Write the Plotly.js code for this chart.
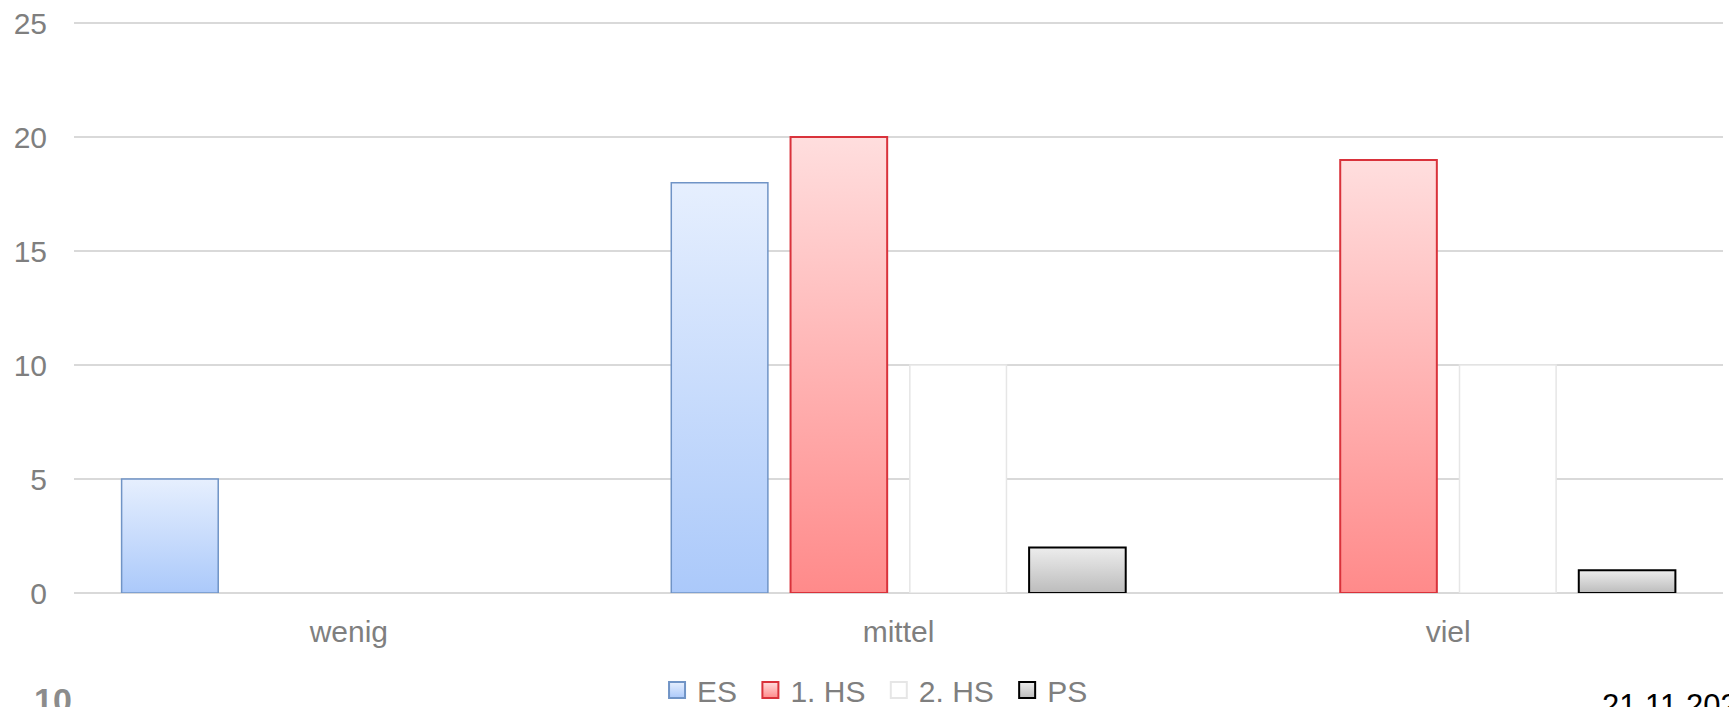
<!DOCTYPE html>
<html>
<head>
<meta charset="utf-8">
<script src="https://cdn.plot.ly/plotly-3.0.1.min.js"></script>
<style>
  html, body { margin: 0; padding: 0; background: #fff; }
  #chart { width: 1729px; height: 707px; }
</style>
</head>
<body>
<div id="chart"></div>
<script>
"use strict";

var categories = ['wenig', 'mittel', 'viel'];
var seriesNames = ['ES', '1. HS', '2. HS', 'PS'];
var valuesES = [5, 18, 0];
var valuesHS1 = [0, 20, 19];
var valuesHS2 = [0, 10, 10];
var valuesPS = [0, 2, 1];
var yTicks = [0, 5, 10, 15, 20, 25];

// gradient fills (top -> bottom), Plotly has no bar gradients so they get patched in after drawing
var fills = [
  {id: 'gES', top: '#e6effe', bottom: '#abc9fa', line: '#7094c6', width: 1.5},
  {id: 'gHS1', top: '#ffdede', bottom: '#ff8a8a', line: '#d9323b', width: 2},
  {id: 'gHS2', top: '#ffffff', bottom: '#ffffff', line: '#e6e6e6', width: 1.5},
  {id: 'gPS', top: '#ededed', bottom: '#bcbcbc', line: '#000000', width: 2}
];

var FONT = 'Arial, "Liberation Sans", sans-serif';
var GREY = '#7f7f7f';

var allValues = [valuesES, valuesHS1, valuesHS2, valuesPS];
var data = allValues.map(function(vals, i) {
  return {
    type: 'bar',
    // trailing nbsp widens the legend entries a little, like the original spacing
    name: seriesNames[i] + '\u00a0',
    x: categories,
    y: vals,
    marker: {
      color: fills[i].bottom,
      // no outline on empty bars, otherwise they show up as a stroke on the baseline
      line: {
        color: fills[i].line,
        width: vals.map(function(v) { return v > 0 ? fills[i].width : 0; })
      }
    }
  };
});

var layout = {
  width: 1729,
  height: 707,
  margin: {l: 74, r: 6, t: 22, b: 114, autoexpand: false},
  paper_bgcolor: '#ffffff',
  plot_bgcolor: '#ffffff',
  font: {family: FONT, size: 30, color: GREY},
  barmode: 'group',
  bargap: 0.132,
  bargroupgap: 0.19,
  showlegend: true,
  legend: {
    orientation: 'h',
    x: 0.4882,
    xanchor: 'center',
    y: -0.17,
    yanchor: 'middle',
    font: {family: FONT, size: 30, color: GREY},
    itemclick: false
  },
  xaxis: {
    type: 'category',
    automargin: false,
    showgrid: false,
    showline: false,
    zeroline: false,
    ticks: '',
    ticklabelstandoff: 18,
    tickfont: {family: FONT, size: 30, color: GREY}
  },
  yaxis: {
    range: [0, 25.05],
    automargin: false,
    tickvals: yTicks,
    ticktext: yTicks.map(String),
    showgrid: true,
    gridcolor: '#d9d9d9',
    gridwidth: 1.5,
    zeroline: true,
    zerolinecolor: '#d9d9d9',
    zerolinewidth: 1.5,
    showline: false,
    ticks: '',
    ticklabelstandoff: 26,
    tickfont: {family: FONT, size: 30, color: GREY}
  },
  annotations: [
    {
      text: '<b>10</b>',
      xref: 'paper', yref: 'paper',
      x: -0.0255, y: -0.151,
      xanchor: 'left', yanchor: 'top',
      showarrow: false,
      font: {family: FONT, size: 34, color: '#8c8c8c'}
    },
    {
      text: '21.11.2021',
      xref: 'paper', yref: 'paper',
      x: 0.9254, y: -0.163,
      xanchor: 'left', yanchor: 'top',
      showarrow: false,
      font: {family: FONT, size: 31, color: '#000000'}
    }
  ]
};

function applyGradients(gd) {
  var svg = gd.querySelector('.main-svg');
  var ns = 'http://www.w3.org/2000/svg';
  var defs = svg.querySelector('defs') || svg.insertBefore(document.createElementNS(ns, 'defs'), svg.firstChild);
  fills.forEach(function(f) {
    var grad = document.createElementNS(ns, 'linearGradient');
    grad.setAttribute('id', f.id);
    grad.setAttribute('x1', '0'); grad.setAttribute('y1', '0');
    grad.setAttribute('x2', '0'); grad.setAttribute('y2', '1');
    [[0, f.top], [1, f.bottom]].forEach(function(s) {
      var stop = document.createElementNS(ns, 'stop');
      stop.setAttribute('offset', s[0]);
      stop.setAttribute('stop-color', s[1]);
      grad.appendChild(stop);
    });
    defs.appendChild(grad);
  });

  var traces = gd.querySelectorAll('.barlayer .trace');
  traces.forEach(function(tr, i) {
    tr.querySelectorAll('.point path').forEach(function(p) {
      p.style.fill = 'url(#' + fills[i].id + ')';
    });
  });
  // legend swatches: a bit bigger than Plotly's 12px squares, with the series outline
  var legendTraces = gd.querySelectorAll('.legend .traces');
  legendTraces.forEach(function(tr, i) {
    tr.querySelectorAll('.legendpoints path').forEach(function(p) {
      p.setAttribute('d', 'M8,8H-8V-8H8Z');
      p.style.fill = 'url(#' + fills[i].id + ')';
      p.style.stroke = fills[i].line;
      p.style.strokeWidth = '2px';
    });
  });
}

Plotly.newPlot('chart', data, layout, {staticPlot: true, displayModeBar: false})
  .then(applyGradients);
</script>
</body>
</html>
